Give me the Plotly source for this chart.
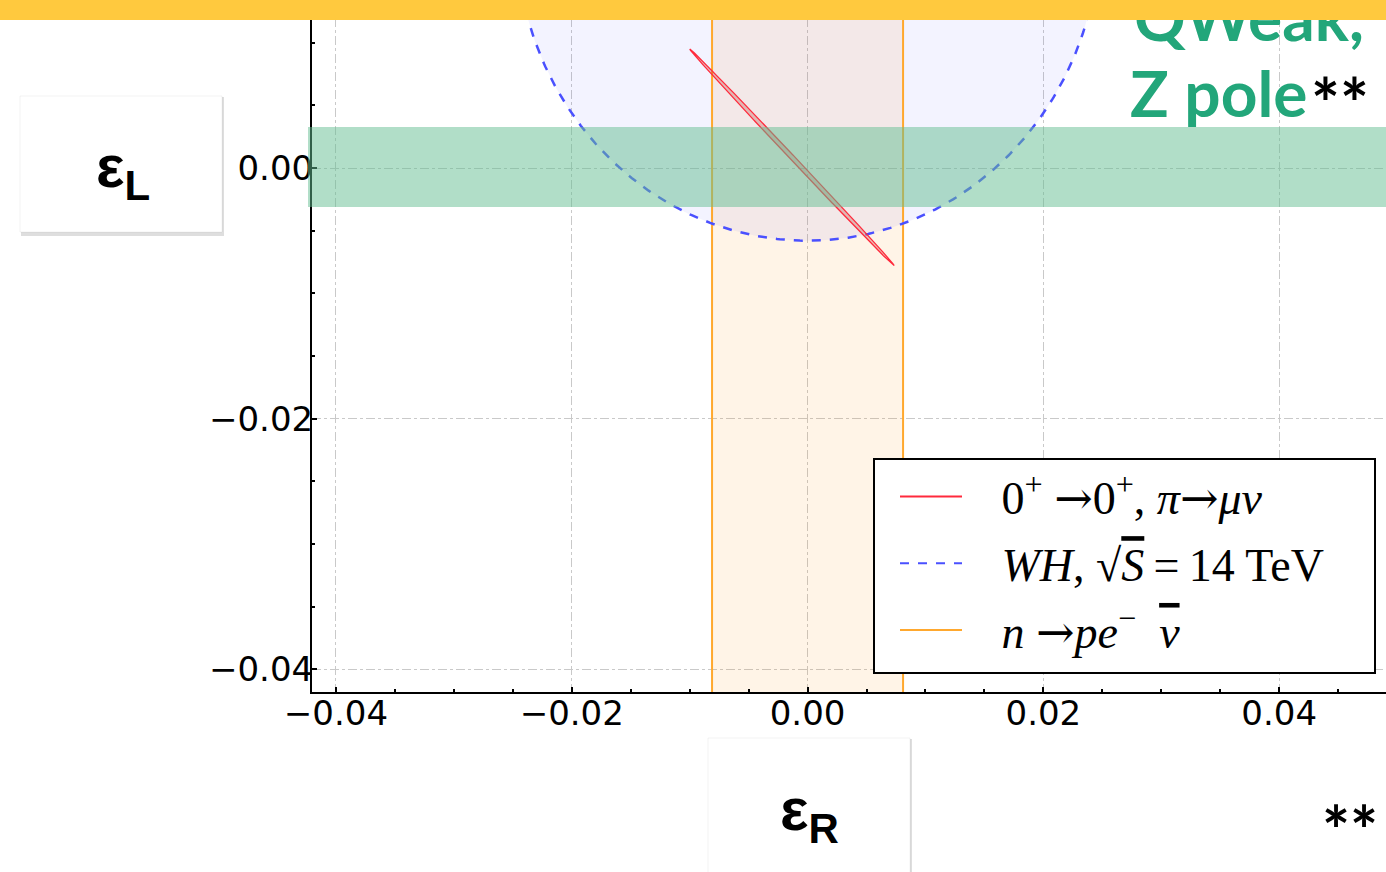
import numpy as np
import plotly.graph_objects as go

# ---------------- data ----------------
superallowed_center = [-0.00132, 0.00085]      # (eps_R, eps_L)
superallowed_semi_axes = [0.01224, 0.00019]    # semi-major, semi-minor
superallowed_angle_deg = -44.9
wh_center = [0.0, 0.01895]
wh_radius = 0.02475
neutron_epsR_bounds = [-0.0081, 0.0081]
zpole_epsL_bounds = [-0.0032, 0.0032]
x_range = [-0.04203, 0.04906]
y_range = [-0.04181, 0.013405]
x_ticks = [-0.04, -0.02, 0.00, 0.02, 0.04]
y_ticks = [-0.04, -0.02, 0.00]
ARROW = "<span style='font-family:DejaVu Serif'>→</span>"
LEAD = "\u2002\u2005"
legend_labels = [
    LEAD + "0<sup>+</sup> " + ARROW + "0<sup>+</sup>, <i>π</i>" + ARROW + "<i>μν</i>",
    LEAD + "<i>WH</i>, √<span style='text-decoration:overline'><i>S</i></span>\u2009=\u200914 TeV",
    LEAD + "<i>n</i> " + ARROW + "<i>pe</i><sup>−</sup>  <span style='text-decoration:overline'><i>ν</i></span>",
]

# ---------------- geometry ----------------
W, H = 1386, 872
L, R, T, B = 312, 0, 0, 180
PW, PH = W - L - R, H - T - B


def px2x(px):
    return (px - L) / PW


def py2y(py):
    return (H - B - py) / PH


t = np.linspace(0, 2 * np.pi, 721)
th = np.deg2rad(superallowed_angle_deg)
a, b = superallowed_semi_axes
ell_x = superallowed_center[0] + a * np.cos(t) * np.cos(th) - b * np.sin(t) * np.sin(th)
ell_y = superallowed_center[1] + a * np.cos(t) * np.sin(th) + b * np.sin(t) * np.cos(th)
circ_x = wh_center[0] + wh_radius * np.cos(t)
circ_y = wh_center[1] + wh_radius * np.sin(t)

n0, n1 = neutron_epsR_bounds
band_y = [-0.1, 0.1]

RED, BLUE, ORANGE = "#ff2a3c", "#4a50ff", "#ffa82e"

fig = go.Figure()
# neutron band fill
fig.add_trace(go.Scatter(x=[n0, n1, n1, n0, n0], y=[band_y[0], band_y[0], band_y[1], band_y[1], band_y[0]],
                         mode="lines", fill="toself", fillcolor="rgba(255,140,0,0.095)",
                         line=dict(width=0), showlegend=False, hoverinfo="skip"))
# WH fill
fig.add_trace(go.Scatter(x=circ_x, y=circ_y, mode="lines", fill="toself",
                         fillcolor="rgba(40,40,255,0.055)", line=dict(width=0),
                         showlegend=False, hoverinfo="skip"))
# neutron lines
fig.add_trace(go.Scatter(x=[n0, n0, None, n1, n1], y=[band_y[0], band_y[1], None, band_y[0], band_y[1]],
                         mode="lines", line=dict(color=ORANGE, width=2), showlegend=False))
# WH dashed circle
fig.add_trace(go.Scatter(x=circ_x, y=circ_y, mode="lines",
                         line=dict(color=BLUE, width=2.5, dash="dash"), showlegend=False))
# superallowed ellipse
fig.add_trace(go.Scatter(x=ell_x, y=ell_y, mode="lines", fill="toself",
                         fillcolor="rgba(190,70,60,0.30)",
                         line=dict(color=RED, width=1.3), showlegend=False))
# legend entries
for name, color, dash in [(legend_labels[0], RED, "solid"),
                          (legend_labels[1], BLUE, "dash"),
                          (legend_labels[2], ORANGE, "solid")]:
    fig.add_trace(go.Scatter(x=[None], y=[None], mode="lines", name=name, legendgroup=name,
                             line=dict(color=color, width=2, dash=dash)))

axis_common = dict(
    showline=True, linecolor="black", linewidth=2,
    ticks="inside", ticklen=5, tickwidth=2, tickcolor="black",
    showgrid=True, gridcolor="#c9c9c9", gridwidth=1, griddash="dashdot",
    zeroline=False, tickformat=".2f", ticklabelstandoff=-10,
    tickfont=dict(family="DejaVu Sans", size=34, color="black"),
    minor=dict(dtick=0.005, ticks="inside", ticklen=3, tickwidth=1.5, tickcolor="black", showgrid=False),
)
fig.update_xaxes(range=x_range, tickvals=x_ticks, **axis_common)
fig.update_yaxes(range=y_range, tickvals=y_ticks, **axis_common)

shapes = []
# green Z-pole band (slide overlay)
shapes.append(dict(type="rect", xref="paper", yref="paper", x0=px2x(308), x1=px2x(1386),
                   y0=py2y(207), y1=py2y(127), fillcolor="rgba(99,189,145,0.5)",
                   line=dict(width=0), layer="above"))
# legend frame
shapes.append(dict(type="rect", xref="paper", yref="paper", x0=px2x(874), x1=px2x(1375),
                   y0=py2y(673), y1=py2y(459), fillcolor="white",
                   line=dict(width=2, color="black"), layer="above"))
# label boxes with shadows
for (bx0, by0, bx1, by1) in [(20, 96, 222, 232), (708, 738, 910, 880)]:
    shapes.append(dict(type="rect", xref="paper", yref="paper", x0=px2x(bx0 + 1), x1=px2x(bx1 + 2),
                       y0=py2y(by1 + 4), y1=py2y(by0 + 1), fillcolor="rgba(0,0,0,0.13)",
                       line=dict(width=0), layer="above"))
    shapes.append(dict(type="rect", xref="paper", yref="paper", x0=px2x(bx0), x1=px2x(bx1),
                       y0=py2y(by1), y1=py2y(by0), fillcolor="white",
                       line=dict(width=1, color="rgba(0,0,0,0.05)"), layer="above"))

GREEN = "#22a67a"
annotations = [
    dict(text="<b>ε<sub>L</sub></b>", xref="paper", yref="paper", x=px2x(123), y=py2y(171),
         xanchor="center", yanchor="middle", showarrow=False,
         font=dict(family="Liberation Sans", size=60, color="black")),
    dict(text="<b>ε<sub>R</sub></b>", xref="paper", yref="paper", x=px2x(809), y=py2y(814),
         xanchor="center", yanchor="middle", showarrow=False,
         font=dict(family="Liberation Sans", size=60, color="black")),
    dict(text="<b>QWeak,</b>", xref="paper", yref="paper",
         x=px2x(1366), y=py2y(-24), xanchor="right", yanchor="top", showarrow=False,
         font=dict(family="Lato", size=64, color=GREEN)),
    dict(text="<b>Z pole</b>", xref="paper", yref="paper",
         x=px2x(1310), y=py2y(52), xanchor="right", yanchor="top", showarrow=False,
         font=dict(family="Lato", size=64, color=GREEN)),
    dict(text="<b>**</b>", xref="paper", yref="paper", x=px2x(1309), y=py2y(102),
         xanchor="left", yanchor="middle", showarrow=False,
         font=dict(family="Lato", size=68, color="black")),
    dict(text="<b>**</b>", xref="paper", yref="paper", x=px2x(1350), y=py2y(829),
         xanchor="center", yanchor="middle", showarrow=False,
         font=dict(family="Lato", size=66, color="black")),
    # top yellow bar (drawn last so it covers the title text)
    dict(text=" ", xref="paper", yref="paper", x=px2x(0), y=py2y(0), xanchor="left", yanchor="top",
         width=W, height=20, bgcolor="#ffc93e", borderpad=0, borderwidth=0, showarrow=False,
         font=dict(size=10)),
]

fig.update_layout(
    width=W, height=H,
    margin=dict(l=L, r=R, t=T, b=B, pad=0),
    paper_bgcolor="white", plot_bgcolor="white",
    shapes=shapes, annotations=annotations,
    showlegend=True,
    legend=dict(x=px2x(895), y=py2y(460), xanchor="left", yanchor="top",
                bgcolor="rgba(0,0,0,0)", borderwidth=0,
                font=dict(family="Liberation Serif", size=46, color="black"),
                itemwidth=62, tracegroupgap=4, traceorder="grouped"),
)

fig.write_html("out.html")
